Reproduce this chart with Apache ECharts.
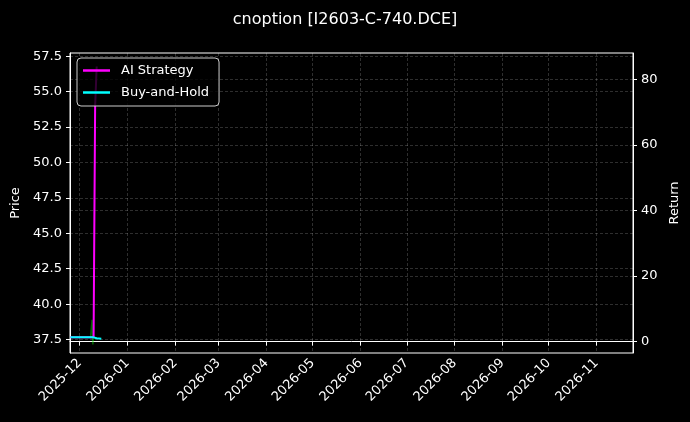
<!DOCTYPE html>
<html>
<head>
<meta charset="utf-8">
<script src="https://cdn.jsdelivr.net/npm/echarts@6/dist/echarts.min.js"></script>
<style>
  html, body { margin: 0; padding: 0; background: #000; }
  #chart { width: 690px; height: 422px; }
</style>
</head>
<body>
<div id="chart"></div>
<script>
// month ticks on the x axis
var monthTicks = ['2025-12', '2026-01', '2026-02', '2026-03', '2026-04', '2026-05',
                  '2026-06', '2026-07', '2026-08', '2026-09', '2026-10', '2026-11'];
var priceTicks = [37.5, 40, 42.5, 45, 47.5, 50, 52.5, 55, 57.5];
var returnTicks = [0, 20, 40, 60, 80];

// trading days
var lineDates = ['2025-11-25', '2025-11-26', '2025-11-27', '2025-11-28', '2025-12-01',
                 '2025-12-02', '2025-12-03', '2025-12-04', '2025-12-05', '2025-12-08',
                 '2025-12-09', '2025-12-10', '2025-12-11', '2025-12-12', '2025-12-15'];
var aiStrategy = [1.3, 1.3, 1.3, 1.3, 1.3, 1.3, 1.3, 1.3, 1.3, 1.3, 1.3, 1.3, 72, 84, null];
var buyHold =    [1.3, 1.3, 1.3, 1.3, 1.3, 1.3, 1.3, 1.3, 1.3, 1.3, 1.3, 1.3, 1.15, 1.0, 0.9];

var priceDates = ['2025-12-08', '2025-12-09', '2025-12-09 12:00', '2025-12-10'];
var priceVals = [37.6, 38.9, 37.15, 37.7];

function ts(s) {
    var p = s.split(/[- :]/);
    return new Date(+p[0], +p[1] - 1, p[2] ? +p[2] : 1, p[3] ? +p[3] : 0, p[4] ? +p[4] : 0).getTime();
}
function pairs(dates, vals) {
    var out = [];
    for (var i = 0; i < dates.length; i++) {
        if (vals[i] !== null) out.push([ts(dates[i]), vals[i]]);
    }
    return out;
}

var font = 'DejaVu Sans';
var gridLine = {show: true, lineStyle: {color: 'rgba(255,255,255,0.3)', type: [3, 2], width: 0.6}};

var myChart = echarts.init(document.getElementById('chart'));
var option = {
    backgroundColor: '#000',
    animation: false,
    textStyle: {fontFamily: font, color: '#fff'},
    title: {
        text: 'cnoption [I2603-C-740.DCE]',
        left: 'center',
        top: 7,
        textStyle: {color: '#fff', fontSize: 16, fontWeight: 'normal', fontFamily: font}
    },
    legend: {
        data: ['AI Strategy', 'Buy-and-Hold'],
        orient: 'vertical',
        left: 77,
        top: 58,
        padding: [6, 10, 7, 6],
        icon: 'rect',
        itemWidth: 27,
        itemHeight: 2.5,
        itemGap: 9,
        backgroundColor: 'rgba(0,0,0,0.8)',
        borderColor: '#ccc',
        borderWidth: 1,
        borderRadius: 4,
        textStyle: {color: '#fff', fontSize: 13, fontFamily: font, padding: [0, 0, 0, 6]}
    },
    grid: {
        left: 70, right: 57, top: 53, bottom: 69,
        show: true,
        borderColor: '#fff',
        borderWidth: 1,
        backgroundColor: '#000'
    },
    xAxis: {
        type: 'value',
        min: ts('2025-11-24 17:00'),
        max: ts('2026-11-24 15:00'),
        axisLine: {show: true, lineStyle: {color: '#fff'}},
        axisTick: {show: true, length: 4, lineStyle: {color: '#fff'},
                   customValues: monthTicks.map(ts)},
        axisLabel: {
            customValues: monthTicks.map(ts),
            rotate: 45,
            color: '#fff',
            fontSize: 13,
            margin: 8,
            fontFamily: font,
            formatter: function (v) {
                var d = new Date(v);
                var m = d.getMonth() + 1;
                return d.getFullYear() + '-' + (m < 10 ? '0' + m : m);
            }
        },
        splitLine: gridLine
    },
    yAxis: [{
        type: 'value',
        position: 'left',
        min: 36.55,
        max: 57.73,
        name: 'Price',
        nameLocation: 'middle',
        nameGap: 47,
        nameTextStyle: {color: '#fff', fontSize: 13, fontFamily: font},
        axisLine: {show: true, lineStyle: {color: '#fff'}},
        axisTick: {show: true, length: 4, lineStyle: {color: '#fff'}, customValues: priceTicks},
        axisLabel: {customValues: priceTicks, color: '#fff', fontSize: 13, margin: 8, fontFamily: font,
                    formatter: function (v) { return v.toFixed(1); }},
        splitLine: gridLine
    }, {
        type: 'value',
        position: 'right',
        min: -3.48,
        max: 88.1,
        name: 'Return',
        nameLocation: 'middle',
        nameGap: 34,
        nameTextStyle: {color: '#fff', fontSize: 13, fontFamily: font},
        axisLine: {show: true, lineStyle: {color: '#fff'}},
        axisTick: {show: true, length: 4, lineStyle: {color: '#fff'}, customValues: returnTicks},
        axisLabel: {customValues: returnTicks, color: '#fff', fontSize: 13, margin: 8, fontFamily: font},
        splitLine: gridLine
    }],
    series: [{
        name: 'Price',
        type: 'line',
        yAxisIndex: 0,
        data: pairs(priceDates, priceVals),
        symbol: 'none',
        lineStyle: {color: 'rgba(0,255,0,0.4)', width: 1.5},
        z: 1
    }, {
        name: 'AI Strategy',
        type: 'line',
        yAxisIndex: 1,
        data: pairs(lineDates, aiStrategy),
        symbol: 'none',
        itemStyle: {color: '#ff00ff'},
        lineStyle: {color: '#ff00ff', width: 2},
        z: 3
    }, {
        name: 'Buy-and-Hold',
        type: 'line',
        yAxisIndex: 1,
        data: pairs(lineDates, buyHold),
        symbol: 'none',
        itemStyle: {color: '#00ffff'},
        lineStyle: {color: '#00ffff', width: 2},
        z: 4
    }]
};
myChart.setOption(option);
</script>
</body>
</html>
